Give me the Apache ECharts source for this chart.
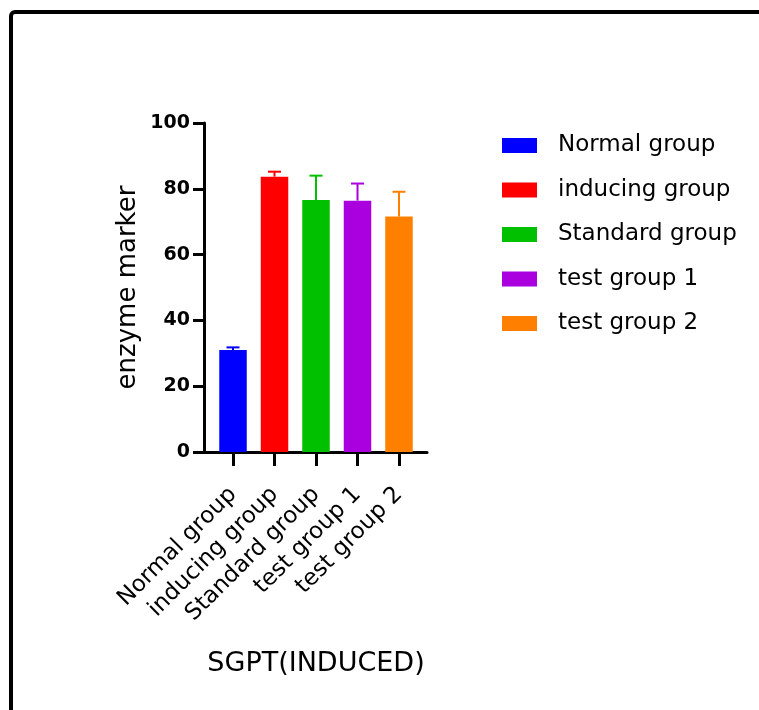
<!DOCTYPE html>
<html>
<head>
<meta charset="utf-8">
<script src="https://cdn.jsdelivr.net/npm/echarts@6/dist/echarts.min.js"></script>
<style>
html,body{margin:0;padding:0;background:#fff;overflow:hidden;}
#chart{position:absolute;left:0;top:0;width:759px;height:710px;}
#frame{position:absolute;left:9px;top:10px;width:900px;height:900px;border:4px solid #000;border-radius:6px;box-sizing:border-box;pointer-events:none;}
</style>
</head>
<body>
<div id="chart"></div>
<div id="frame"></div>
<script>
var categories = ['Normal group', 'inducing group', 'Standard group', 'test group 1', 'test group 2'];
var means = [31.0, 83.7, 76.6, 76.4, 71.6];
var errors = [0.8, 1.5, 7.4, 5.2, 7.5];
var colors = ['#0000FF', '#FF0000', '#00C000', '#AA00E0', '#FF8000'];
var yTicks = [0, 20, 40, 60, 80, 100];
var xTitle = 'SGPT(INDUCED)';
var yTitle = 'enzyme marker';

var chart = echarts.init(document.getElementById('chart'), null, {renderer: 'canvas'});
var FONT = 'DejaVu Sans';

var series = categories.map(function (name, i) {
  return {
    name: name,
    type: 'bar',
    xAxisIndex: 1,
    yAxisIndex: 1,
    barWidth: 27.5,
    barGap: '-100%',
    itemStyle: {color: colors[i]},
    data: categories.map(function (c, j) { return j === i ? means[i] : '-'; }),
    z: 2
  };
});

series.push({
  type: 'custom',
  name: 'err',
  xAxisIndex: 1,
  yAxisIndex: 1,
  z: 1,
  silent: true,
  data: categories.map(function (c, i) { return [i, means[i], means[i] + errors[i]]; }),
  renderItem: function (params, api) {
    var i = api.value(0);
    var lo = api.coord([i, api.value(1)]);
    var hi = api.coord([i, api.value(2)]);
    var hw = 6.5;
    var st = {stroke: colors[i], lineWidth: 2};
    return {
      type: 'group',
      children: [
        {type: 'line', shape: {x1: lo[0], y1: lo[1], x2: hi[0], y2: hi[1]}, style: st},
        {type: 'line', shape: {x1: hi[0] - hw, y1: hi[1], x2: hi[0] + hw, y2: hi[1]}, style: st}
      ]
    };
  }
});

chart.setOption({
  animation: false,
  backgroundColor: 'transparent',
  legend: {
    orient: 'vertical',
    left: 497,
    top: 129,
    icon: 'rect',
    itemWidth: 35,
    itemHeight: 15,
    itemGap: 21.5,
    data: categories,
    textStyle: {fontFamily: FONT, fontSize: 23, color: '#000', lineHeight: 23, padding: [0, 0, 0, 16]}
  },
  grid: [
    {left: 204, right: 332, top: 123, bottom: 258},
    {left: 212.25, right: 339.25, top: 123, bottom: 258}
  ],
  xAxis: [
    {
      gridIndex: 0, type: 'value', min: 0, max: 1,
      axisLine: {show: true, onZero: false, lineStyle: {color: '#000', width: 3}},
      axisTick: {show: false}, axisLabel: {show: false}, splitLine: {show: false}
    },
    {
      gridIndex: 1, type: 'category', data: categories,
      axisLine: {show: false, onZero: false},
      axisTick: {show: true, alignWithLabel: true, length: 14, lineStyle: {color: '#000', width: 3}},
      axisLabel: {rotate: 45, margin: 39, interval: 0, fontFamily: FONT, fontSize: 23, color: '#000'},
      splitLine: {show: false},
      name: xTitle, nameLocation: 'middle', nameGap: 198,
      nameTextStyle: {fontFamily: FONT, fontSize: 27, color: '#000'}
    }
  ],
  yAxis: [
    {
      gridIndex: 0, type: 'value', min: 0, max: 100, interval: 20,
      axisLine: {show: true, lineStyle: {color: '#000', width: 3}},
      axisTick: {show: true, length: 11, lineStyle: {color: '#000', width: 3}},
      axisLabel: {margin: 14, fontFamily: FONT, fontWeight: 'bold', fontSize: 19, color: '#000',
        formatter: function (v) { return yTicks.indexOf(v) >= 0 ? String(v) : ''; }},
      splitLine: {show: false},
      name: yTitle, nameLocation: 'middle', nameGap: 63, nameRotate: 90,
      nameTextStyle: {fontFamily: FONT, fontSize: 26, color: '#000'}
    },
    {
      gridIndex: 1, type: 'value', min: 0, max: 100, interval: 20, show: false
    }
  ],
  series: series
});
</script>
</body>
</html>
